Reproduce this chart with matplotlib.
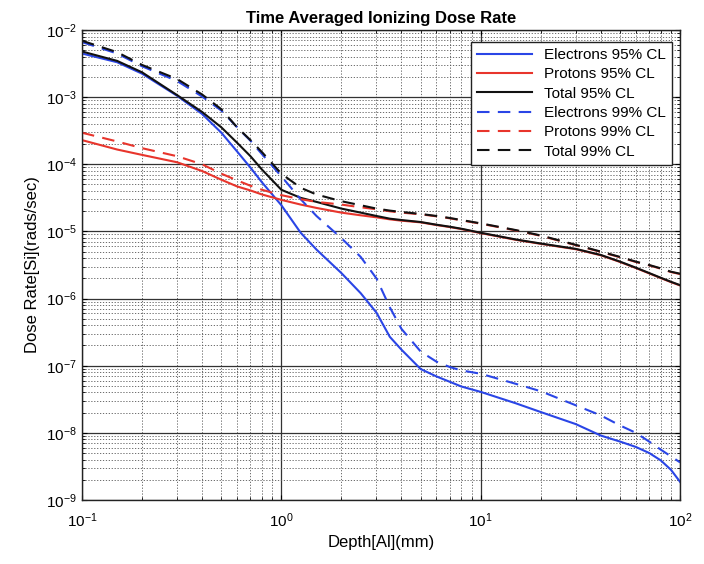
import matplotlib
matplotlib.use('Agg')
import matplotlib.pyplot as plt
import matplotlib.ticker as mticker
import numpy as np

plt.rcParams['font.family'] = ['Liberation Sans', 'DejaVu Sans']
plt.rcParams['mathtext.fontset'] = 'custom'
plt.rcParams['mathtext.rm'] = 'Liberation Sans'
plt.rcParams['mathtext.it'] = 'Liberation Sans'

# depth in mm
depth = [0.1, 0.15, 0.2, 0.3, 0.4, 0.5, 0.6, 0.7, 0.8, 1.0, 1.25, 1.5, 2, 2.5, 3, 3.5, 4,
         5, 6, 7, 8, 10, 15, 20, 30, 40, 50, 60, 70, 80, 90, 100]

# log10 of dose rate
elec95 = [-2.35, -2.48, -2.65, -2.98, -3.25, -3.53, -3.81, -4.05, -4.27, -4.61, -5.02, -5.27,
          -5.62, -5.92, -6.21, -6.57, -6.76, -7.05, -7.16, -7.24, -7.31, -7.39, -7.56, -7.69,
          -7.87, -8.04, -8.13, -8.21, -8.30, -8.41, -8.55, -8.73]
prot95 = [-3.64, -3.78, -3.86, -3.97, -4.10, -4.23, -4.33, -4.39, -4.45, -4.53, -4.60, -4.65,
          -4.72, -4.76, -4.79, -4.82, -4.84, -4.865, -4.905, -4.935, -4.965, -5.025, -5.125,
          -5.185, -5.265, -5.355, -5.455, -5.545, -5.625, -5.695, -5.755, -5.805]
total95 = [-2.32, -2.46, -2.63, -2.97, -3.22, -3.45, -3.68, -3.88, -4.08, -4.38, -4.50, -4.56,
           -4.66, -4.72, -4.77, -4.81, -4.83, -4.86, -4.90, -4.93, -4.96, -5.02, -5.12, -5.18,
           -5.26, -5.35, -5.45, -5.54, -5.62, -5.69, -5.75, -5.80]
elec99 = [-2.18, -2.35, -2.54, -2.76, -2.99, -3.20, -3.45, -3.65, -3.85, -4.18, -4.52, -4.77,
          -5.10, -5.38, -5.70, -6.13, -6.45, -6.79, -6.94, -7.02, -7.07, -7.12, -7.27, -7.38,
          -7.59, -7.74, -7.89, -8.00, -8.13, -8.25, -8.35, -8.44]
prot99 = [-3.53, -3.66, -3.76, -3.88, -4.00, -4.14, -4.24, -4.32, -4.38, -4.46, -4.52, -4.56,
          -4.60, -4.64, -4.67, -4.70, -4.72, -4.745, -4.775, -4.805, -4.835, -4.885, -4.985,
          -5.065, -5.205, -5.305, -5.385, -5.455, -5.505, -5.555, -5.605, -5.635]
total99 = [-2.16, -2.33, -2.52, -2.73, -2.96, -3.18, -3.45, -3.64, -3.82, -4.14, -4.35, -4.45,
           -4.55, -4.61, -4.66, -4.69, -4.71, -4.74, -4.77, -4.80, -4.83, -4.88, -4.98, -5.06,
           -5.20, -5.30, -5.38, -5.45, -5.50, -5.55, -5.60, -5.63]

labels = ['Electrons 95% CL', 'Protons 95% CL', 'Total 95% CL',
          'Electrons 99% CL', 'Protons 99% CL', 'Total 99% CL']

blue = '#2a45e6'
red = '#e8352c'
black = '#111111'
dash = (0, (6, 4))

fig = plt.figure(figsize=(7.04, 5.64), dpi=100)
ax = fig.add_axes([0.1165, 0.1135, 0.8495, 0.8333])

ax.plot(depth, 10 ** np.array(elec95), color=blue, lw=1.5, label=labels[0])
ax.plot(depth, 10 ** np.array(prot95), color=red, lw=1.5, label=labels[1])
ax.plot(depth, 10 ** np.array(total95), color=black, lw=1.5, label=labels[2])
ax.plot(depth, 10 ** np.array(elec99), color=blue, lw=1.5, ls=dash, label=labels[3])
ax.plot(depth, 10 ** np.array(prot99), color=red, lw=1.5, ls=dash, label=labels[4])
ax.plot(depth, 10 ** np.array(total99), color=black, lw=1.5, ls=dash, label=labels[5])

ax.set_xscale('log')
ax.set_yscale('log')
ax.set_xlim(0.1, 100)
ax.set_ylim(1e-9, 1e-2)
ax.xaxis.set_minor_formatter(mticker.NullFormatter())
ax.yaxis.set_minor_formatter(mticker.NullFormatter())

ax.grid(True, which='major', color='#333333', lw=0.9, ls='-')
ax.grid(True, which='minor', color='#555555', lw=0.6, ls=(0, (1.5, 2)))
ax.set_axisbelow(True)
ax.tick_params(which='both', direction='in', labelsize=11, top=True, right=True)
ax.tick_params(axis='x', which='major', pad=8)
ax.tick_params(axis='y', which='major', pad=4)
for s in ax.spines.values():
    s.set_linewidth(1.0)
    s.set_color('#222222')

ax.set_title('Time Averaged Ionizing Dose Rate', fontsize=12, fontweight='bold', pad=5)
ax.set_xlabel('Depth[Al](mm)', fontsize=12, labelpad=4)
ax.set_ylabel('Dose Rate[Si](rads/sec)', fontsize=12)

leg = ax.legend(loc='upper right', bbox_to_anchor=(0.987, 0.975), fontsize=11,
                handlelength=3.6, labelspacing=0.35, borderpad=0.4, fancybox=False,
                framealpha=1, edgecolor='#222222', borderaxespad=0)
leg.get_frame().set_linewidth(1.0)

plt.savefig('out.png', dpi=100)
